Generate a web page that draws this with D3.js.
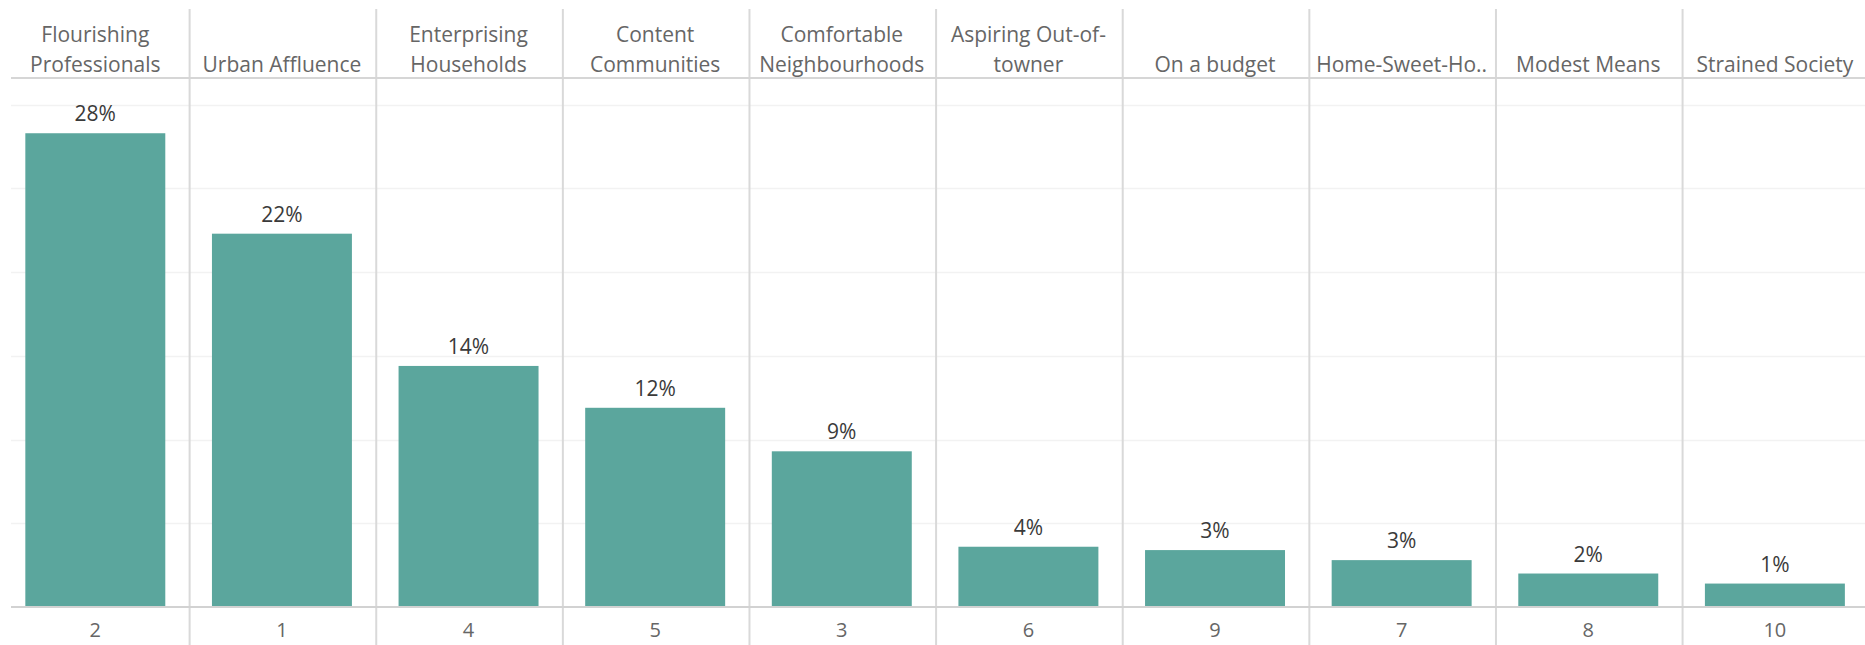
<!DOCTYPE html>
<html>
<head>
<meta charset="utf-8">
<script src="https://cdn.jsdelivr.net/npm/d3@7"></script>
<style>
  body { margin: 0; background: #fff; }
  svg { display: block; font-family: "Open Sans", sans-serif; }
</style>
</head>
<body>
<svg></svg>
<script>

var segments = ['2', '1', '4', '5', '3', '6', '9', '7', '8', '10'];
var headerLines = [
  ['Flourishing', 'Professionals'],
  ['Urban Affluence'],
  ['Enterprising', 'Households'],
  ['Content', 'Communities'],
  ['Comfortable', 'Neighbourhoods'],
  ['Aspiring Out-of-', 'towner'],
  ['On a budget'],
  ['Home-Sweet-Ho..'],
  ['Modest Means'],
  ['Strained Society']
];
var shares = [28.3, 22.3, 14.4, 11.9, 9.3, 3.6, 3.4, 2.8, 2.0, 1.4];
var gridTicks = [5, 10, 15, 20, 25, 30];

var W = 1865, H = 645;
var paneLeft = 11, headerBottom = 78, baseline = 607;

var svg = d3.select('svg')
  .attr('width', W)
  .attr('height', H);

var x = d3.scaleBand()
  .range([2, 1868.2])
  .domain(segments)
  .paddingInner(0.25)
  .paddingOuter(0.125);

var y = d3.scaleLinear()
  .range([baseline, headerBottom])
  .domain([0, 31.6]);

var step = x.step();
var colLeft = function(i) { return x.range()[0] + i * step; };

// faint horizontal gridlines
svg.append('g')
  .selectAll('line')
  .data(gridTicks)
  .enter().append('line')
  .attr('x1', paneLeft)
  .attr('x2', W)
  .attr('y1', function(d) { return Math.round(y(d)) + 0.5; })
  .attr('y2', function(d) { return Math.round(y(d)) + 0.5; })
  .style('stroke', '#f2f2f2')
  .style('stroke-width', 1.5);

// column dividers
svg.append('g')
  .selectAll('line')
  .data(d3.range(1, segments.length))
  .enter().append('line')
  .attr('x1', function(i) { return colLeft(i) + 1; })
  .attr('x2', function(i) { return colLeft(i) + 1; })
  .attr('y1', 9)
  .attr('y2', H)
  .style('stroke', '#d9d9d9')
  .style('stroke-width', 2);

// header line
svg.append('line')
  .attr('x1', paneLeft).attr('x2', W)
  .attr('y1', headerBottom).attr('y2', headerBottom)
  .style('stroke', '#d6d6d6')
  .style('stroke-width', 2);

var data = segments.map(function(s, i) {
  return { seg: s, value: shares[i], lines: headerLines[i] };
});

svg.append('g')
  .selectAll('rect')
  .data(data)
  .enter().append('rect')
  .attr('x', function(d) { return x(d.seg); })
  .attr('y', function(d) { return y(d.value); })
  .attr('width', x.bandwidth())
  .attr('height', function(d) { return baseline - y(d.value); })
  .style('fill', '#5ba69d');

svg.append('line')
  .attr('x1', paneLeft).attr('x2', W)
  .attr('y1', baseline).attr('y2', baseline)
  .style('stroke', '#d2d2d2')
  .style('stroke-width', 2);

// value labels
svg.append('g')
  .selectAll('text')
  .data(data)
  .enter().append('text')
  .attr('x', function(d) { return x(d.seg) + x.bandwidth() / 2; })
  .attr('y', function(d) { return y(d.value) - 12; })
  .attr('text-anchor', 'middle')
  .style('font-size', '21px')
  .style('fill', '#3a3a3a')
  .text(function(d) { return Math.round(d.value) + '%'; });

// header labels, bottom aligned
var heads = svg.append('g')
  .selectAll('text')
  .data(data)
  .enter().append('text')
  .attr('text-anchor', 'middle')
  .style('font-size', '21px')
  .style('fill', '#666');

heads.selectAll('tspan')
  .data(function(d) {
    return d.lines.map(function(l, j) {
      return { text: l, seg: d.seg, row: j, n: d.lines.length };
    });
  })
  .enter().append('tspan')
  .attr('x', function(d) { return x(d.seg) + x.bandwidth() / 2; })
  .attr('y', function(d) { return 72 - (d.n - 1 - d.row) * 30; })
  .text(function(d) { return d.text; });

// segment numbers along the bottom
svg.append('g')
  .selectAll('text')
  .data(data)
  .enter().append('text')
  .attr('x', function(d) { return x(d.seg) + x.bandwidth() / 2; })
  .attr('y', 637)
  .attr('text-anchor', 'middle')
  .style('font-size', '20px')
  .style('fill', '#666')
  .text(function(d) { return d.seg; });

</script>
</body>
</html>
